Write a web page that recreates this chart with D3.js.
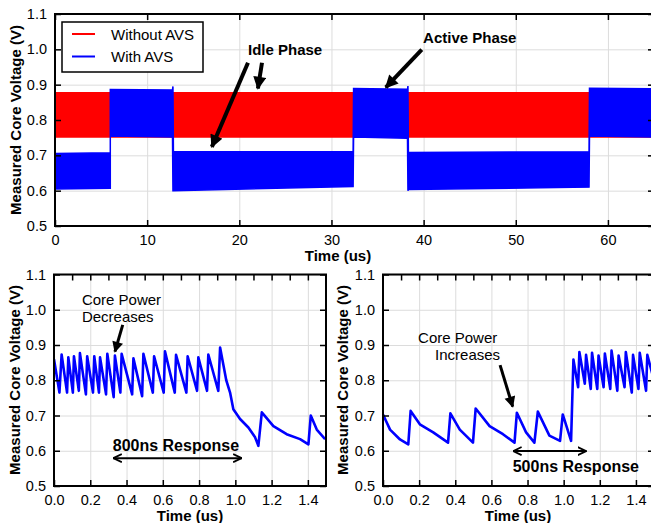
<!DOCTYPE html>
<html><head><meta charset="utf-8">
<script src="https://cdn.jsdelivr.net/npm/d3@7"></script>
<style>
body{margin:0;background:#fff}
svg{display:block}
text{font-family:Arial,"Liberation Sans",Helvetica,sans-serif;fill:#000}
</style>
</head><body>
<svg id="chart" width="651" height="523"></svg>
<script>
// ---------------- DATA ----------------
const voltTicks = [0.5, 0.6, 0.7, 0.8, 0.9, 1.0, 1.1];
const longTimeTicks = [0, 10, 20, 30, 40, 50, 60];
const shortTimeTicks = [0, 0.2, 0.4, 0.6, 0.8, 1.0, 1.2, 1.4];
const shortTimeMinorTicks = [0.1, 0.2, 0.3, 0.4, 0.5, 0.6, 0.7, 0.8, 0.9, 1.0, 1.1, 1.2, 1.3, 1.4];
const seriesNames = ["Without AVS", "With AVS"];
const seriesColors = ["#ff0000", "#0000ff"];

// Top panel: envelopes (min / max) of the dense ripple, time in us
const redTime = [0, 65];
const redLow  = [0.752, 0.752];
const redHigh = [0.877, 0.877];

const blueTime = [0,     6.0,   6.0,   12.75, 12.8,  12.85, 32.35, 32.4,  38.25, 38.3,  38.35, 57.95, 58.0,  65];
const blueLow  = [0.605, 0.607, 0.755, 0.752, 0.600, 0.600, 0.612, 0.752, 0.748, 0.600, 0.603, 0.610, 0.755, 0.752];
const blueHigh = [0.705, 0.707, 0.886, 0.885, 0.895, 0.710, 0.711, 0.889, 0.887, 0.896, 0.708, 0.710, 0.890, 0.888];

// Bottom-left: core power decreases
const decTime = [0, 0.030, 0.042, 0.072, 0.079, 0.104, 0.110, 0.137, 0.143, 0.176, 0.183, 0.215, 0.222,
  0.248, 0.254, 0.287, 0.294, 0.329, 0.336, 0.366, 0.373, 0.431, 0.438, 0.486, 0.493, 0.545, 0.552,
  0.605, 0.612, 0.666, 0.673, 0.730, 0.737, 0.789, 0.796, 0.844, 0.851, 0.906, 0.916, 0.950, 0.971,
  0.989, 1.026, 1.072, 1.109, 1.127, 1.146, 1.210, 1.283, 1.357, 1.403, 1.416, 1.449, 1.495];
const decVolt = [0.860, 0.765, 0.873, 0.765, 0.865, 0.765, 0.868, 0.770, 0.877, 0.760, 0.868, 0.765, 0.868,
  0.765, 0.865, 0.760, 0.875, 0.752, 0.870, 0.765, 0.875, 0.760, 0.862, 0.755, 0.875, 0.765, 0.868,
  0.765, 0.882, 0.765, 0.872, 0.765, 0.868, 0.770, 0.865, 0.770, 0.873, 0.770, 0.893, 0.800, 0.765,
  0.718, 0.690, 0.666, 0.638, 0.614, 0.709, 0.670, 0.647, 0.633, 0.618, 0.700, 0.660, 0.633];

// Bottom-right: core power increases
const incTime = [0, 0.039, 0.094, 0.140, 0.153, 0.204, 0.278, 0.360, 0.373, 0.425, 0.498, 0.513, 0.590,
  0.664, 0.728, 0.741, 0.792, 0.838, 0.857, 0.921, 0.980, 0.995, 1.041, 1.054, 1.080, 1.087, 1.117,
  1.124, 1.150, 1.157, 1.186, 1.193, 1.221, 1.228, 1.258, 1.265, 1.297, 1.304, 1.337, 1.344, 1.377,
  1.384, 1.414, 1.421, 1.456, 1.463, 1.500];
const incVolt = [0.703, 0.660, 0.632, 0.618, 0.713, 0.675, 0.652, 0.623, 0.706, 0.660, 0.623, 0.720, 0.670,
  0.647, 0.623, 0.708, 0.652, 0.623, 0.711, 0.643, 0.628, 0.703, 0.628, 0.859, 0.780, 0.880, 0.790,
  0.872, 0.775, 0.878, 0.775, 0.870, 0.780, 0.876, 0.775, 0.884, 0.770, 0.870, 0.780, 0.880, 0.765,
  0.872, 0.775, 0.878, 0.770, 0.872, 0.800];

// ---------------- DRAWING ----------------
const svg = d3.select("#chart");
const defs = svg.append("defs");
defs.append("marker").attr("id", "headBig").attr("markerUnits", "userSpaceOnUse")
  .attr("viewBox", "0 0 10 10").attr("refX", 9).attr("refY", 5)
  .attr("markerWidth", 14).attr("markerHeight", 13).attr("orient", "auto")
  .append("path").attr("d", "M0,0 L10,5 L0,10 Z").attr("fill", "#000");
defs.append("marker").attr("id", "headMid").attr("markerUnits", "userSpaceOnUse")
  .attr("viewBox", "0 0 10 10").attr("refX", 9).attr("refY", 5)
  .attr("markerWidth", 12).attr("markerHeight", 11).attr("orient", "auto")
  .append("path").attr("d", "M0,0 L10,5 L0,10 Z").attr("fill", "#000");
defs.append("marker").attr("id", "chev").attr("markerUnits", "userSpaceOnUse")
  .attr("viewBox", "0 0 10 10").attr("refX", 9.5).attr("refY", 5)
  .attr("markerWidth", 9).attr("markerHeight", 10).attr("orient", "auto-start-reverse")
  .append("path").attr("d", "M0,0.5 L9.5,5 L0,9.5").attr("fill", "none")
  .attr("stroke", "#000").attr("stroke-width", 2);

function panel(id, x0, x1, y0, y1, xDomain, majorX, minorTopX, xFmt) {
  const x = d3.scaleLinear().domain(xDomain).range([x0, x1]);
  const y = d3.scaleLinear().domain([0.5, 1.1]).range([y1, y0]);
  const g = svg.append("g");
  defs.append("clipPath").attr("id", "clip" + id).append("rect")
    .attr("x", x0).attr("y", y0).attr("width", x1 - x0).attr("height", y1 - y0);
  // grid
  g.append("g").attr("transform", `translate(0,${y1})`)
    .call(d3.axisBottom(x).tickValues(majorX).tickSize(-(y1 - y0)).tickFormat(""))
    .call(s => s.select(".domain").remove())
    .call(s => s.selectAll("line").attr("stroke", "#dcdcdc").attr("stroke-width", 1));
  g.append("g").attr("transform", `translate(${x0},0)`)
    .call(d3.axisLeft(y).tickValues(voltTicks).tickSize(-(x1 - x0)).tickFormat(""))
    .call(s => s.select(".domain").remove())
    .call(s => s.selectAll("line").attr("stroke", "#dcdcdc").attr("stroke-width", 1));
  const data = g.append("g").attr("clip-path", `url(#clip${id})`);
  // axes with inward ticks
  const ax = g.append("g").attr("class", "axes");
  ax.append("g").attr("transform", `translate(0,${y1})`)
    .call(d3.axisBottom(x).tickValues(majorX).tickSizeInner(-6).tickSizeOuter(0).tickPadding(9).tickFormat(xFmt))
    .call(s => s.select(".domain").remove());
  ax.append("g").attr("transform", `translate(0,${y0})`)
    .call(d3.axisTop(x).tickValues(minorTopX).tickSizeInner(-6).tickSizeOuter(0).tickFormat(""))
    .call(s => s.select(".domain").remove());
  ax.append("g").attr("transform", `translate(${x0},0)`)
    .call(d3.axisLeft(y).tickValues(voltTicks).tickSizeInner(-6).tickSizeOuter(0).tickPadding(8).tickFormat(d3.format(".1f")))
    .call(s => s.select(".domain").remove());
  ax.append("g").attr("transform", `translate(${x1},0)`)
    .call(d3.axisRight(y).tickValues(voltTicks).tickSizeInner(-6).tickSizeOuter(0).tickFormat(""))
    .call(s => s.select(".domain").remove());
  ax.selectAll("line").attr("stroke", "#000").attr("stroke-width", 1.5);
  ax.selectAll("text").attr("font-size", 14.5).attr("font-family", "Arial, 'Liberation Sans', sans-serif").attr("fill", "#000");
  const frame = g.append("rect").attr("x", x0).attr("y", y0).attr("width", x1 - x0).attr("height", y1 - y0)
    .attr("fill", "none").attr("stroke", "#000").attr("stroke-width", 2);
  return {x, y, g, data, frame};
}

// ---- Top panel ----
const P1 = panel("top", 55, 654, 14, 226, [0, 65], longTimeTicks, longTimeTicks, d3.format("d"));
const band = d3.area().x(d => P1.x(d.t)).y0(d => P1.y(d.lo)).y1(d => P1.y(d.hi));
const redBand = redTime.map((t, i) => ({t, lo: redLow[i], hi: redHigh[i]}));
const blueBand = blueTime.map((t, i) => ({t, lo: blueLow[i], hi: blueHigh[i]}));
P1.data.append("path").attr("d", band(redBand)).attr("fill", seriesColors[0])
  .attr("stroke", seriesColors[0]).attr("stroke-width", 1.5);
P1.data.append("path").attr("d", band(blueBand)).attr("fill", seriesColors[1])
  .attr("stroke", seriesColors[1]).attr("stroke-width", 1.5);
P1.frame.raise();

// legend
const lg = svg.append("g");
lg.append("rect").attr("x", 62).attr("y", 22).attr("width", 141).attr("height", 50)
  .attr("fill", "#fff").attr("stroke", "#000").attr("stroke-width", 1.5);
seriesNames.forEach((n, i) => {
  lg.append("line").attr("x1", 72).attr("x2", 95).attr("y1", 34 + i * 22.5).attr("y2", 34 + i * 22.5)
    .attr("stroke", seriesColors[i]).attr("stroke-width", 2);
  lg.append("text").attr("x", 111).attr("y", 39.5 + i * 22.5).attr("font-size", 15).text(n);
});

// annotations (data coordinates)
function arrow(P, t0, v0, t1, v1, w, marker, both) {
  const l = P.g.append("line").attr("x1", P.x(t0)).attr("y1", P.y(v0)).attr("x2", P.x(t1)).attr("y2", P.y(v1))
    .attr("stroke", "#000").attr("stroke-width", w).attr("marker-end", `url(#${marker})`);
  if (both) l.attr("marker-start", `url(#${marker})`);
}
function label(P, t, v, txt, size, bold) {
  P.g.append("text").attr("x", P.x(t)).attr("y", P.y(v)).attr("font-size", size)
    .attr("font-weight", bold ? "bold" : "normal").text(txt);
}
label(P1, 20.94, 0.984, "Idle Phase", 15, true);
arrow(P1, 20.94, 0.962, 17.02, 0.724, 4, "headBig");
arrow(P1, 22.46, 0.962, 22.02, 0.889, 4, "headBig");
label(P1, 39.94, 1.018, "Active Phase", 15, true);
arrow(P1, 39.8, 0.999, 35.9, 0.892, 4, "headBig");

svg.append("text").attr("x", 338).attr("y", 261).attr("text-anchor", "middle")
  .attr("font-size", 15).attr("font-weight", "bold").text("Time (us)");
svg.append("text").attr("transform", "translate(21,120) rotate(-90)").attr("text-anchor", "middle")
  .attr("font-size", 15).attr("font-weight", "bold").text("Measured Core Voltage (V)");

// ---- Bottom panels ----
const line = P => d3.line().x(d => P.x(d.t)).y(d => P.y(d.v));

const P2 = panel("bl", 54, 326, 274.5, 486, [0, 1.5], shortTimeTicks, shortTimeMinorTicks, d3.format(".1f"));
P2.data.append("path").attr("d", line(P2)(decTime.map((t, i) => ({t, v: decVolt[i]}))))
  .attr("fill", "none").attr("stroke", seriesColors[1]).attr("stroke-width", 2.6).attr("stroke-linejoin", "round");
P2.frame.raise();
label(P2, 0.154, 1.013, "Core Power", 15, false);
label(P2, 0.154, 0.965, "Decreases", 15, false);
arrow(P2, 0.379, 0.957, 0.336, 0.881, 3, "headMid");
label(P2, 0.324, 0.599, "800ns Response", 16, true);
arrow(P2, 0.327, 0.579, 1.035, 0.579, 2, "chev", true);

const P3 = panel("br", 383, 654, 274.5, 486, [0, 1.5], shortTimeTicks, shortTimeMinorTicks, d3.format(".1f"));
P3.data.append("path").attr("d", line(P3)(incTime.map((t, i) => ({t, v: incVolt[i]}))))
  .attr("fill", "none").attr("stroke", seriesColors[1]).attr("stroke-width", 2.6).attr("stroke-linejoin", "round");
P3.frame.raise();
label(P3, 0.194, 0.906, "Core Power", 15, false);
label(P3, 0.288, 0.857, "Increases", 15, false);
arrow(P3, 0.648, 0.843, 0.718, 0.725, 3, "headMid");
arrow(P3, 0.72, 0.599, 1.125, 0.599, 2, "chev", true);
label(P3, 0.718, 0.54, "500ns Response", 16, true);

[[190, 20], [518, 348]].forEach(([cx, yx]) => {
  svg.append("text").attr("x", cx).attr("y", 521).attr("text-anchor", "middle")
    .attr("font-size", 15).attr("font-weight", "bold").text("Time (us)");
  svg.append("text").attr("transform", `translate(${yx},380) rotate(-90)`).attr("text-anchor", "middle")
    .attr("font-size", 15).attr("font-weight", "bold").text("Measured Core Voltage (V)");
});
</script>
</body></html>
